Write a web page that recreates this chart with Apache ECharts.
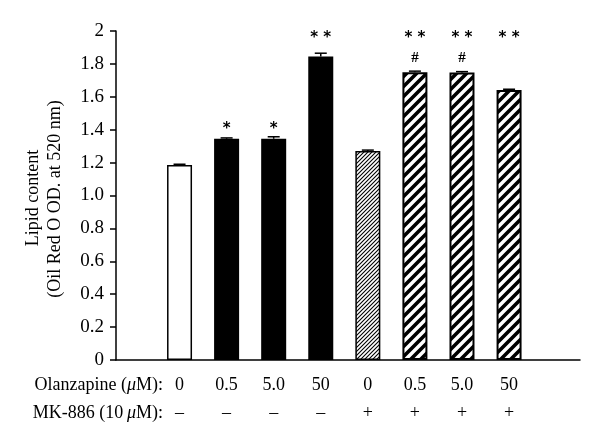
<!DOCTYPE html>
<html>
<head>
<meta charset="utf-8">
<script src="https://cdn.jsdelivr.net/npm/echarts@6/dist/echarts.min.js"></script>
<style>html,body{margin:0;padding:0;background:#fff}#c{width:600px;height:446px}</style>
</head>
<body>
<div id="c"></div>
<script>
// ---- data ----
const olanzapine = ['0', '0.5', '5.0', '50', '0', '0.5', '5.0', '50'];
const mk886 = ['\u2013', '\u2013', '\u2013', '\u2013', '+', '+', '+', '+'];
const lipid = [1.185, 1.345, 1.345, 1.845, 1.27, 1.75, 1.748, 1.642];
const errors = [0.005, 0.005, 0.012, 0.02, 0.006, 0.006, 0.005, 0.004];
const stars = ['', '*', '*', '* *', '', '* *', '* *', '* *'];
const hashes = ['', '', '', '', '', '#', '#', ''];
const yTickLabels = ['0', '0.2', '0.4', '0.6', '0.8', '1.0', '1.2', '1.4', '1.6', '1.8', '2'];

// ---- patterns ----
function stripes(size, lw) {
  const c = document.createElement('canvas');
  c.width = size; c.height = size;
  const ctx = c.getContext('2d');
  ctx.fillStyle = '#fff'; ctx.fillRect(0, 0, size, size);
  ctx.strokeStyle = '#000'; ctx.lineWidth = lw;
  ctx.beginPath();
  ctx.moveTo(-size / 2, size / 2); ctx.lineTo(size / 2, -size / 2);
  ctx.moveTo(0, size); ctx.lineTo(size, 0);
  ctx.moveTo(size / 2, size * 1.5); ctx.lineTo(size * 1.5, size / 2);
  ctx.stroke();
  return { image: c, repeat: 'repeat' };
}
const fine = stripes(4, 1.1);
const thick = stripes(10, 3.6);
const fills = ['#fff', '#000', '#000', '#000', fine, thick, thick, thick];

const serif = '"Liberation Serif", "DejaVu Serif", serif';
const sans = '"DejaVu Sans", "Liberation Sans", sans-serif';

const chart = echarts.init(document.getElementById('c'), null, { renderer: 'canvas' });
chart.setOption({
  animation: false,
  backgroundColor: '#fff',
  grid: [
    { left: 116, right: 20, top: 31, bottom: 86 },
    { left: 156, width: 376.6, top: 31, bottom: 86 }
  ],
  xAxis: [
    { gridIndex: 0, type: 'value', min: 0, max: 1,
      axisLine: { show: true, lineStyle: { color: '#000', width: 1.5 } },
      axisTick: { show: false }, axisLabel: { show: false }, splitLine: { show: false } },
    { gridIndex: 1, type: 'category', data: olanzapine,
      axisLine: { show: false }, axisTick: { show: false },
      axisLabel: {
        margin: 11, interval: 0,
        formatter: (v, i) => '{a|' + v + '}\n{b|' + mk886[i] + '}',
        rich: {
          a: { fontFamily: serif, fontSize: 18, lineHeight: 28, color: '#000' },
          b: { fontFamily: serif, fontSize: 18, lineHeight: 28, color: '#000' }
        }
      } }
  ],
  yAxis: [
    { gridIndex: 0, type: 'value', min: 0, max: 2, interval: 0.2,
      axisLine: { show: true, lineStyle: { color: '#000', width: 1.5 } },
      axisTick: { show: true, length: 6, lineStyle: { color: '#000', width: 1.5 } },
      axisLabel: { margin: 12, fontFamily: serif, fontSize: 19, color: '#000',
        formatter: (v) => yTickLabels[Math.round(v / 0.2)] },
      splitLine: { show: false } },
    { gridIndex: 1, type: 'value', min: 0, max: 2, show: false }
  ],
  graphic: [
    { type: 'text', x: 33, y: 198, rotation: Math.PI / 2,
      style: { text: 'Lipid content', font: '18px ' + serif, fill: '#000', align: 'center', verticalAlign: 'middle' } },
    { type: 'text', x: 55, y: 199, rotation: Math.PI / 2,
      style: { text: '(Oil Red O OD. at 520 nm)', font: '18px ' + serif, fill: '#000', align: 'center', verticalAlign: 'middle' } },
    { type: 'text', x: 163, y: 385,
      style: { text: '{n|Olanzapine (}{i|\u03bc}{n|M):}', align: 'right', verticalAlign: 'middle',
        rich: { n: { fontFamily: serif, fontSize: 18, fill: '#000' }, i: { fontFamily: serif, fontSize: 18, fontStyle: 'italic', fill: '#000' } } } },
    { type: 'text', x: 163, y: 413,
      style: { text: '{n|MK-886 (10\u2009}{i|\u03bc}{n|M):}', align: 'right', verticalAlign: 'middle',
        rich: { n: { fontFamily: serif, fontSize: 18, fill: '#000' }, i: { fontFamily: serif, fontSize: 18, fontStyle: 'italic', fill: '#000' } } } }
  ],
  series: [
    { type: 'bar', xAxisIndex: 1, yAxisIndex: 1, barWidth: 25,
      data: lipid.map((v, i) => ({ value: v, itemStyle: { color: fills[i], borderColor: '#000', borderWidth: i >= 5 ? 2 : 1.5 } })) },
    { type: 'custom', xAxisIndex: 1, yAxisIndex: 1, silent: true,
      data: lipid.map((v, i) => [i, v, errors[i]]),
      renderItem: function (params, api) {
        const i = api.value(0), v = api.value(1), e = api.value(2);
        const p0 = api.coord([i, v]);
        const p1 = api.coord([i, v + e]);
        const st = { stroke: '#000', lineWidth: 1.5 };
        const children = [
          { type: 'line', shape: { x1: p0[0], y1: p0[1], x2: p1[0], y2: p1[1] }, style: st },
          { type: 'line', shape: { x1: p1[0] - 6, y1: p1[1], x2: p1[0] + 6, y2: p1[1] }, style: st }
        ];
        const s = stars[i];
        if (s) {
          const lvl = s === '*' ? 1.425 : 1.98;
          const ps = api.coord([i, lvl]);
          children.push({ type: 'text', x: ps[0], y: ps[1] + 4,
            style: { text: s, font: 'bold 15px ' + sans, fill: '#000', align: 'center', verticalAlign: 'middle' } });
        }
        if (hashes[i]) {
          const ph = api.coord([i, 1.836]);
          children.push({ type: 'text', x: ph[0], y: ph[1],
            style: { text: hashes[i], font: 'bold 15px ' + serif, fill: '#000', align: 'center', verticalAlign: 'middle' } });
        }
        return { type: 'group', children: children };
      } }
  ]
});
</script>
</body>
</html>
